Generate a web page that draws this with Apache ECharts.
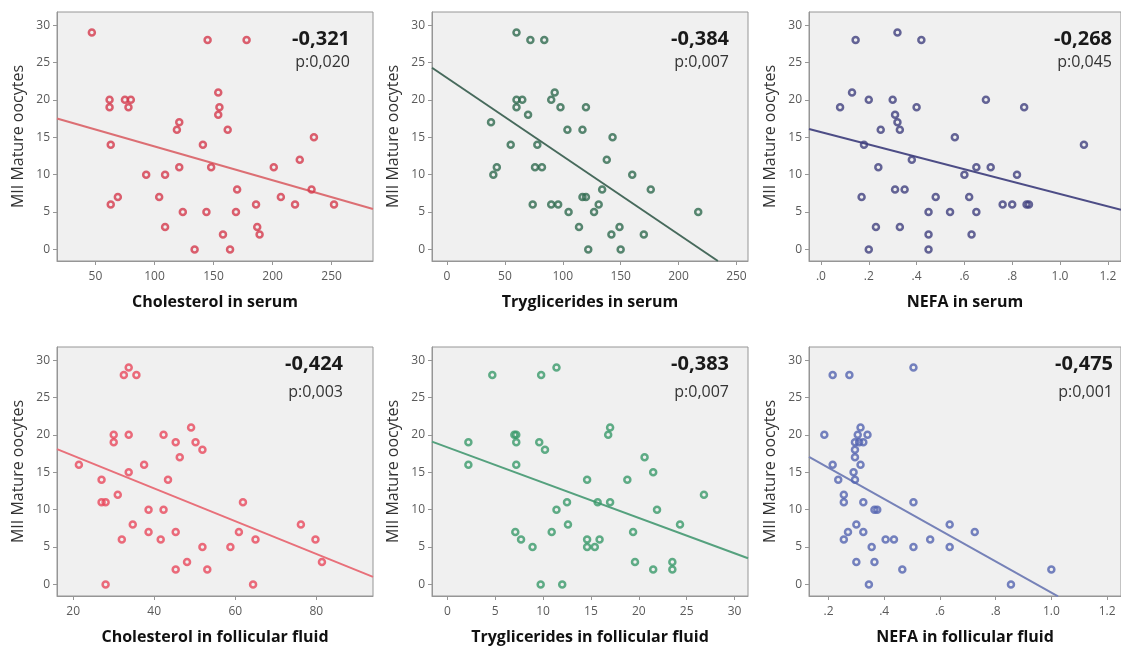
<!DOCTYPE html>
<html>
<head>
<meta charset="utf-8">
<title>MII Mature oocytes</title>
<script src="https://cdn.jsdelivr.net/npm/echarts@6/dist/echarts.min.js"></script>
<style>
html,body{margin:0;padding:0;background:#fff;}
#chart{width:1121px;height:651px;}
</style>
</head>
<body>
<div id="chart"></div>
<script>
// y axis is the same for all six panels
var yTicks = [0, 5, 10, 15, 20, 25, 30];

// [x, MII oocytes]
var cholSerum = [[47,29],[145,28],[178,28],[62,20],[62,19],[75,20],[80,20],[78,19],
	[63,14],[63,6],[69,7],[93,10],[109,10],[104,7],[109,3],[124,5],[121,11],[119,16],[121,17],
	[134,0],[141,14],[144,5],[148,11],[154,21],[155,19],[154,18],[162,16],[158,2],[164,0],
	[170,8],[169,5],[186,6],[187,3],[189,2],[201,11],[207,7],[219,6],[223,12],[233,8],[235,15],[252,6]];
var tryglSerum = [[60,29],[72,28],[84,28],[38,17],[40,10],[43,11],[55,14],[60,20],[65,20],[60,19],
	[70,18],[78,14],[76,11],[82,11],[74,6],[90,20],[93,21],[98,19],[90,6],[96,6],[104,16],[105,5],
	[114,3],[117,16],[120,19],[117,7],[120,7],[122,0],[127,5],[131,6],[134,8],[138,12],[143,15],
	[142,2],[149,3],[150,0],[160,10],[170,2],[176,8],[217,5]];
var nefaSerum = [[0.145,28],[0.32,29],[0.42,28],[0.13,21],[0.08,19],[0.2,20],[0.3,20],[0.31,18],
	[0.32,17],[0.33,16],[0.4,19],[0.25,16],[0.18,14],[0.24,11],[0.38,12],[0.17,7],[0.31,8],[0.35,8],
	[0.23,3],[0.33,3],[0.2,0],[0.45,5],[0.45,2],[0.45,0],[0.48,7],[0.54,5],[0.56,15],[0.6,10],
	[0.65,11],[0.62,7],[0.65,5],[0.63,2],[0.69,20],[0.71,11],[0.76,6],[0.8,6],[0.82,10],[0.85,19],
	[0.86,6],[0.87,6],[1.1,14]];
var cholFF = [[21.4,16],[27,14],[27,11],[28,11],[28,0],[30,20],[30,19],[31,12],[32,6],[32.5,28],
	[33.7,29],[35.6,28],[33.7,20],[33.7,15],[34.7,8],[37.5,16],[38.6,10],[38.6,7],[41.6,6],[42.3,20],
	[42.3,10],[43.4,14],[45.3,19],[46.3,17],[45.3,7],[45.3,2],[48.1,3],[49.1,21],[50.2,19],[51.9,18],
	[51.9,5],[53.1,2],[58.8,5],[60.9,7],[61.9,11],[65,6],[64.4,0],[76.2,8],[79.8,6],[81.4,3]];
var tryglFF = [[4.7,28],[9.8,28],[11.4,29],[2.2,19],[2.2,16],[7,20],[7.2,20],[7.2,19],[7.2,16],
	[7.1,7],[7.7,6],[8.9,5],[9.6,19],[10.2,18],[9.75,0],[12,0],[10.9,7],[11.4,10],[12.5,11],[12.6,8],
	[14.6,14],[14.6,6],[14.6,5],[15.4,5],[15.9,6],[15.7,11],[17,11],[16.8,20],[17,21],[18.8,14],
	[19.4,7],[19.6,3],[20.6,17],[21.5,15],[21.9,10],[21.5,2],[23.5,3],[23.5,2],[24.3,8],[26.8,12]];
var nefaFF = [[0.185,20],[0.215,28],[0.275,28],[0.505,29],[0.215,16],[0.235,14],[0.255,12],[0.255,11],
	[0.255,6],[0.27,7],[0.29,15],[0.295,14],[0.295,17],[0.295,18],[0.295,19],[0.305,20],[0.315,21],
	[0.31,19],[0.325,19],[0.34,20],[0.315,16],[0.3,8],[0.3,3],[0.325,11],[0.325,7],[0.345,0],[0.355,5],
	[0.365,3],[0.365,10],[0.375,10],[0.405,6],[0.435,6],[0.465,2],[0.505,11],[0.505,5],[0.565,6],
	[0.635,8],[0.635,5],[0.725,7],[0.855,0],[1.0,2]];

// fit lines, two end points each
var fitCholSerum = [[17.5,17.5],[285,5.4]];
var fitTryglSerum = [[-13,24.3],[234,-1.55]];
var fitNefaSerum = [[-0.05,16.1],[1.255,5.3]];
var fitCholFF = [[16,18.1],[94,1.0]];
var fitTryglFF = [[-1.6,19.1],[31.4,3.5]];
var fitNefaFF = [[0.13,17.05],[1.024,-1.6]];

// x ticks and their labels
var cholSerumTicks = [50, 100, 150, 200, 250];
var tryglSerumTicks = [0, 50, 100, 150, 200, 250];
var nefaSerumTicks = [0, 0.2, 0.4, 0.6, 0.8, 1.0, 1.2];
var nefaSerumLabels = ['.0', '.2', '.4', '.6', '.8', '1.0', '1.2'];
var cholFFTicks = [20, 40, 60, 80];
var tryglFFTicks = [0, 5, 10, 15, 20, 25, 30];
var nefaFFTicks = [0.2, 0.4, 0.6, 0.8, 1.0, 1.2];
var nefaFFLabels = ['.2', '.4', '.6', '.8', '1.0', '1.2'];

var xNames = ['Cholesterol in serum', 'Tryglicerides in serum', 'NEFA in serum',
	'Cholesterol in follicular fluid', 'Tryglicerides in follicular fluid', 'NEFA in follicular fluid'];
var corrLabels = ['-0,321', '-0,384', '-0,268', '-0,424', '-0,383', '-0,475'];
var pLabels = ['p:0,020', 'p:0,007', 'p:0,045', 'p:0,003', 'p:0,007', 'p:0,001'];

var panels = [
	{pts: cholSerum, fit: fitCholSerum, ticks: cholSerumTicks, labels: null, min: 17.5, max: 285, dot: '#d43a4c', line: '#dc6f74'},
	{pts: tryglSerum, fit: fitTryglSerum, ticks: tryglSerumTicks, labels: null, min: -13, max: 260, dot: '#2f6a4f', line: '#476a5c'},
	{pts: nefaSerum, fit: fitNefaSerum, ticks: nefaSerumTicks, labels: nefaSerumLabels, min: -0.05, max: 1.255, dot: '#40407e', line: '#4d4d86'},
	{pts: cholFF, fit: fitCholFF, ticks: cholFFTicks, labels: null, min: 16, max: 94, dot: '#e8485c', line: '#e8707a'},
	{pts: tryglFF, fit: fitTryglFF, ticks: tryglFFTicks, labels: null, min: -1.6, max: 31.4, dot: '#3a9a6a', line: '#55a17e'},
	{pts: nefaFF, fit: fitNefaFF, ticks: nefaFFTicks, labels: nefaFFLabels, min: 0.13, max: 1.25, dot: '#5464b0', line: '#7682b8'}
];

var boxLeft = [57, 432, 809];
var boxTop = [12, 347];
var boxW = 316, boxH = 249;
var corrRight = [350, 729, 1112, 343, 729, 1113];
var corrY = [[39, 62], [364, 392]];

var font = '"Open Sans", "DejaVu Sans", sans-serif';
var frame = '#969696';

var grids = [], xAxes = [], yAxes = [], series = [], texts = [];

panels.forEach(function(p, i){
	var col = i % 3, row = Math.floor(i / 3);
	grids.push({
		left: boxLeft[col], top: boxTop[row], width: boxW, height: boxH,
		show: true, backgroundColor: '#f0f0f0', borderColor: frame, borderWidth: 1
	});
	xAxes.push({
		type: 'value', gridIndex: i, min: p.min, max: p.max,
		name: xNames[i], nameLocation: 'middle', nameGap: 33,
		nameTextStyle: {fontFamily: font, fontSize: 16, fontWeight: 'bold', color: '#111'},
		splitLine: {show: false},
		axisLine: {show: true, onZero: false, lineStyle: {color: frame}},
		axisTick: {show: true, length: 4, lineStyle: {color: frame}, customValues: p.ticks},
		axisLabel: {
			customValues: p.ticks, margin: 10, fontFamily: font, fontSize: 12, color: '#5a5a5a',
			formatter: function(v){
				if (!p.labels) return String(v);
				for (var k = 0; k < p.ticks.length; k++) {
					if (Math.abs(p.ticks[k] - v) < 1e-9) return p.labels[k];
				}
				return '';
			}
		}
	});
	yAxes.push({
		type: 'value', gridIndex: i, min: -1.55, max: 31.75,
		name: 'MII Mature oocytes', nameLocation: 'middle', nameGap: 31,
		nameTextStyle: {fontFamily: font, fontSize: 16, color: '#333'},
		splitLine: {show: false},
		axisLine: {show: true, onZero: false, lineStyle: {color: frame}},
		axisTick: {show: true, length: 4, lineStyle: {color: frame}, customValues: yTicks},
		axisLabel: {customValues: yTicks, margin: 7, fontFamily: font, fontSize: 12, color: '#5a5a5a'}
	});
	series.push({
		type: 'line', xAxisIndex: i, yAxisIndex: i, data: p.fit,
		symbol: 'none', silent: true, z: 2,
		lineStyle: {color: p.line, width: 2}
	});
	series.push({
		type: 'scatter', xAxisIndex: i, yAxisIndex: i, data: p.pts,
		symbol: 'circle', symbolSize: 6, z: 3,
		itemStyle: {color: 'rgba(255,255,255,0)', borderColor: p.dot, borderWidth: 2.5}
	});
	texts.push({
		type: 'text', x: corrRight[i], y: corrY[row][0],
		style: {text: corrLabels[i], align: 'right', verticalAlign: 'middle',
			font: 'bold 20px ' + font, fill: '#1a1a1a'}
	});
	texts.push({
		type: 'text', x: corrRight[i], y: corrY[row][1],
		style: {text: pLabels[i], align: 'right', verticalAlign: 'middle',
			font: '16px ' + font, fill: '#333'}
	});
});

var myChart = echarts.init(document.getElementById('chart'));
var option = {
	animation: false,
	backgroundColor: '#fff',
	grid: grids,
	xAxis: xAxes,
	yAxis: yAxes,
	series: series,
	graphic: texts
};
myChart.setOption(option);
</script>
</body>
</html>
